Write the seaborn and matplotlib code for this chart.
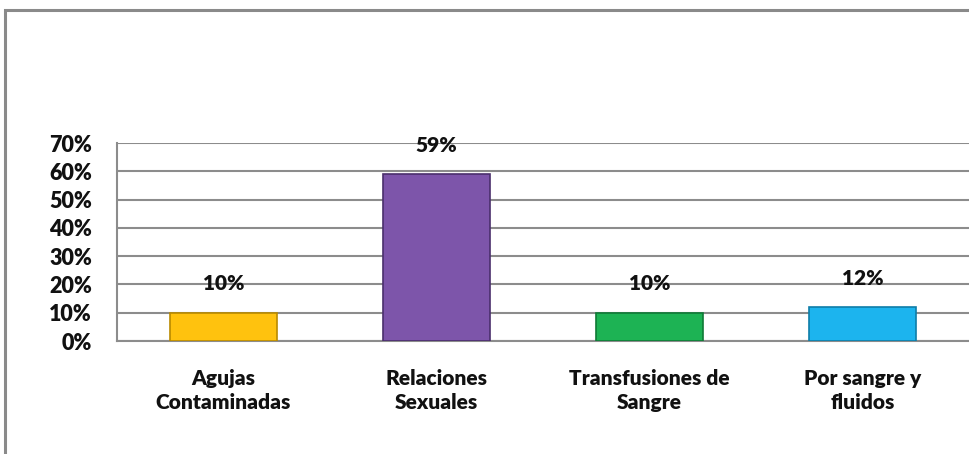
import matplotlib
matplotlib.use("Agg")
import matplotlib.pyplot as plt
import seaborn as sns
import pandas as pd
from matplotlib.patches import Rectangle
from matplotlib.ticker import FixedLocator, PercentFormatter

# Data
categories = ["Agujas\nContaminadas", "Relaciones\nSexuales", "Transfusiones de\nSangre", "Por sangre y\nfluidos"]
values = [0.10, 0.59, 0.10, 0.12]
value_labels = ["10%", "59%", "10%", "12%"]
colors = ["#FFC20E", "#7D55AA", "#1DB354", "#1CB4EE"]
edges = ["#B98A00", "#4A2F6C", "#0F7A36", "#0E7DA8"]
y_ticks = [0.0, 0.1, 0.2, 0.3, 0.4, 0.5, 0.6, 0.7]

df = pd.DataFrame({"cat": categories, "val": values})

sns.set_style("white")
plt.rcParams["font.family"] = ["Lato", "DejaVu Sans"]

fig = plt.figure(figsize=(9.69, 4.54), dpi=100)
ax = fig.add_axes([117 / 969, (454 - 341) / 454, 1 - 117 / 969, (341 - 143) / 454])

sns.barplot(data=df, x="cat", y="val", hue="cat", palette=colors, width=0.5,
            saturation=1, legend=False, ax=ax, zorder=3)
for patch, ec in zip(ax.patches, edges):
    patch.set_edgecolor(ec)
    patch.set_linewidth(1.2)

# value labels above the bars
for i, (v, lab) in enumerate(zip(values, value_labels)):
    ax.annotate(lab, (i, v), xytext=(0, 14), textcoords="offset points",
                ha="center", va="bottom", fontsize=15, fontweight="heavy", color="#111111")

ax.set_ylim(0, 0.7)
ax.set_xlim(-0.5, 3.5)
ax.set_yticks(y_ticks)
ax.yaxis.set_major_formatter(PercentFormatter(1.0, decimals=0))
ax.yaxis.grid(True, color="#8c8c8c", linewidth=1.5, zorder=0)
ax.set_axisbelow(True)

ax.set_xlabel("")
ax.set_ylabel("")
ax.tick_params(axis="x", which="major", length=0, pad=20, labelsize=15)
ax.tick_params(axis="y", which="major", length=6, width=1.5, color="#8c8c8c", labelsize=15.5, pad=12)
ax.xaxis.set_minor_locator(FixedLocator([-0.5, 0.5, 1.5, 2.5]))
ax.tick_params(axis="x", which="minor", length=7, width=1.5, color="#8c8c8c", direction="out")
for lab in ax.get_xticklabels() + ax.get_yticklabels():
    lab.set_fontweight("heavy")
    lab.set_color("#111111")
for lab in ax.get_xticklabels():
    lab.set_linespacing(1.35)

for s in ["top", "right"]:
    ax.spines[s].set_visible(False)
for s in ["left", "bottom"]:
    ax.spines[s].set_color("#8c8c8c")
    ax.spines[s].set_linewidth(1.5)

# outer chart border (only top and left visible in the crop)
fig.patches.append(Rectangle((5 / 969, -0.1), 1.2, (454 - 10) / 454 + 0.1,
                             transform=fig.transFigure, fill=False,
                             edgecolor="#8a8a8a", linewidth=2.2))

fig.savefig("out.png", dpi=100, facecolor="white")
